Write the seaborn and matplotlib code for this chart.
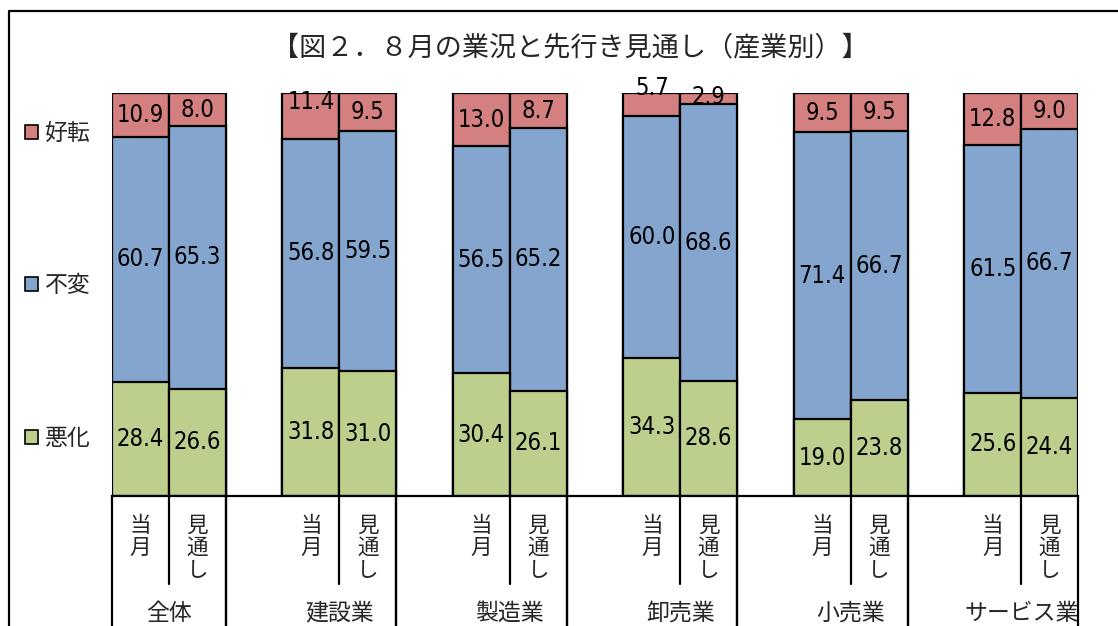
import numpy as np
import pandas as pd
import matplotlib
matplotlib.use("Agg")
import matplotlib.pyplot as plt
from matplotlib.lines import Line2D
from matplotlib.patches import Patch
import seaborn as sns

# ---- data -------------------------------------------------------------
groups = ["全体", "建設業", "製造業", "卸売業", "小売業", "サービス業"]
periods = ["当月", "見通し"]
series_names = ["好転", "不変", "悪化"]

# one value per bar: (当月, 見通し) for each industry in turn
better = [10.9, 8.0, 11.4, 9.5, 13.0, 8.7, 5.7, 2.9, 9.5, 9.5, 12.8, 9.0]
unchanged = [60.7, 65.3, 56.8, 59.5, 56.5, 65.2, 60.0, 68.6, 71.4, 66.7, 61.5, 66.7]
worse = [28.4, 26.6, 31.8, 31.0, 30.4, 26.1, 34.3, 28.6, 19.0, 23.8, 25.6, 24.4]

title = "【図２．８月の業況と先行き見通し（産業別）】"

# ---- styling ----------------------------------------------------------
sns.set_style("white")
plt.rcParams["font.family"] = ["Noto Sans CJK JP", "DejaVu Sans"]

colors = {"好転": "#D48080", "不変": "#84A6CE", "悪化": "#BCCF8C"}

# ---- long table with an empty slot between industries -------------------
rows = []
order = []
for gi, g in enumerate(groups):
    for pi, p in enumerate(periods):
        k = gi * 2 + pi
        slot = f"{g}|{p}"
        order.append(slot)
        rows.append(dict(slot=slot, group=g, period=p,
                         好転=better[k], 不変=unchanged[k], 悪化=worse[k]))
    if gi < len(groups) - 1:
        order.append(f"gap{gi}")
df = pd.DataFrame(rows)
df["top_all"] = df["悪化"] + df["不変"] + df["好転"]
df["top_mid"] = df["悪化"] + df["不変"]
df["top_low"] = df["悪化"]

W, H = 1118, 626
fig = plt.figure(figsize=(W / 100, H / 100), dpi=100)
ax_l, ax_r, ax_t, ax_b = 112, 1078, 93, 496
ax = fig.add_axes([ax_l / W, (H - ax_b) / H, (ax_r - ax_l) / W, (ax_b - ax_t) / H])

bar_kw = dict(x="slot", order=order, width=1.0, edgecolor="black",
              linewidth=1.6, errorbar=None, ax=ax)
sns.barplot(data=df, y="top_all", color=colors["好転"], saturation=1, **bar_kw)
sns.barplot(data=df, y="top_mid", color=colors["不変"], saturation=1, **bar_kw)
sns.barplot(data=df, y="top_low", color=colors["悪化"], saturation=1, **bar_kw)

ax.set_xlim(-0.5, len(order) - 0.5)
ax.set_ylim(0, 100)
ax.set_xlabel("")
ax.set_ylabel("")
ax.set_xticks([])
ax.set_yticks([])
for s in ["left", "right", "top"]:
    ax.spines[s].set_visible(False)
ax.spines["bottom"].set_color("black")
ax.spines["bottom"].set_linewidth(1.6)

# ---- value labels -------------------------------------------------------
# small upward nudges for crowded top labels
top_shift = {("建設業", "当月"): 3.5, ("卸売業", "当月"): 4.0, ("卸売業", "見通し"): 0.3}
lab_kw = dict(ha="center", va="center", fontsize=17, family="DejaVu Sans",
              fontstretch="condensed", color="black")
for _, r in df.iterrows():
    xpos = order.index(r["slot"])
    lo = r["悪化"]
    mid = lo + r["不変"]
    ax.text(xpos, lo / 2, f"{r['悪化']:.1f}", **lab_kw)
    ax.text(xpos, (lo + mid) / 2, f"{r['不変']:.1f}", **lab_kw)
    y_top = (mid + r["top_all"]) / 2 + top_shift.get((r["group"], r["period"]), 0)
    ax.text(xpos, y_top, f"{r['好転']:.1f}", clip_on=False, **lab_kw)

# ---- two-level category axis -------------------------------------------
trans = ax.get_xaxis_transform()
px = 1.0 / (ax_b - ax_t)  # one pixel in axes-fraction units
for i, slot in enumerate(order):
    left = i - 0.5
    if slot.startswith("gap") or i == 0:
        ax.plot([left, left], [0, -150 * px], transform=trans, color="black",
                lw=1.6, clip_on=False)
    if slot.endswith("|見通し"):
        ax.plot([left, left], [0, -88 * px], transform=trans, color="black",
                lw=1.6, clip_on=False)
        ax.plot([i + 0.5, i + 0.5], [0, -150 * px], transform=trans, color="black",
                lw=1.6, clip_on=False)
    if "|" in slot:
        g, p = slot.split("|")
        ax.text(i, -19 * px, "\n".join(p), transform=trans, ha="center", va="top",
                fontsize=15.5, linespacing=1.0)
for gi, g in enumerate(groups):
    xc = gi * 3 + 0.5
    ax.text(xc, -117 * px, g, transform=trans, ha="center", va="center", fontsize=16.5)

# ---- title, legend, frame ----------------------------------------------
fig.text(570 / W, 1 - 48 / H, title, ha="center", va="center", fontsize=19.5)

handles = [Patch(facecolor=colors[n], edgecolor="black", linewidth=1.2, label=n)
           for n in series_names]
fig.legend(handles=handles, loc="upper left", bbox_to_anchor=(25 / W, 1 - 122 / H),
           frameon=False, fontsize=16.5, handlelength=0.55, handleheight=0.55,
           handletextpad=0.3, labelspacing=5.65, borderpad=0, borderaxespad=0)

fig.add_artist(Line2D([9 / W, 9 / W, 1.0], [0, 1 - 11 / H, 1 - 11 / H],
                      transform=fig.transFigure, color="black", lw=1.6))

fig.savefig("out.png", dpi=100, facecolor="white")
